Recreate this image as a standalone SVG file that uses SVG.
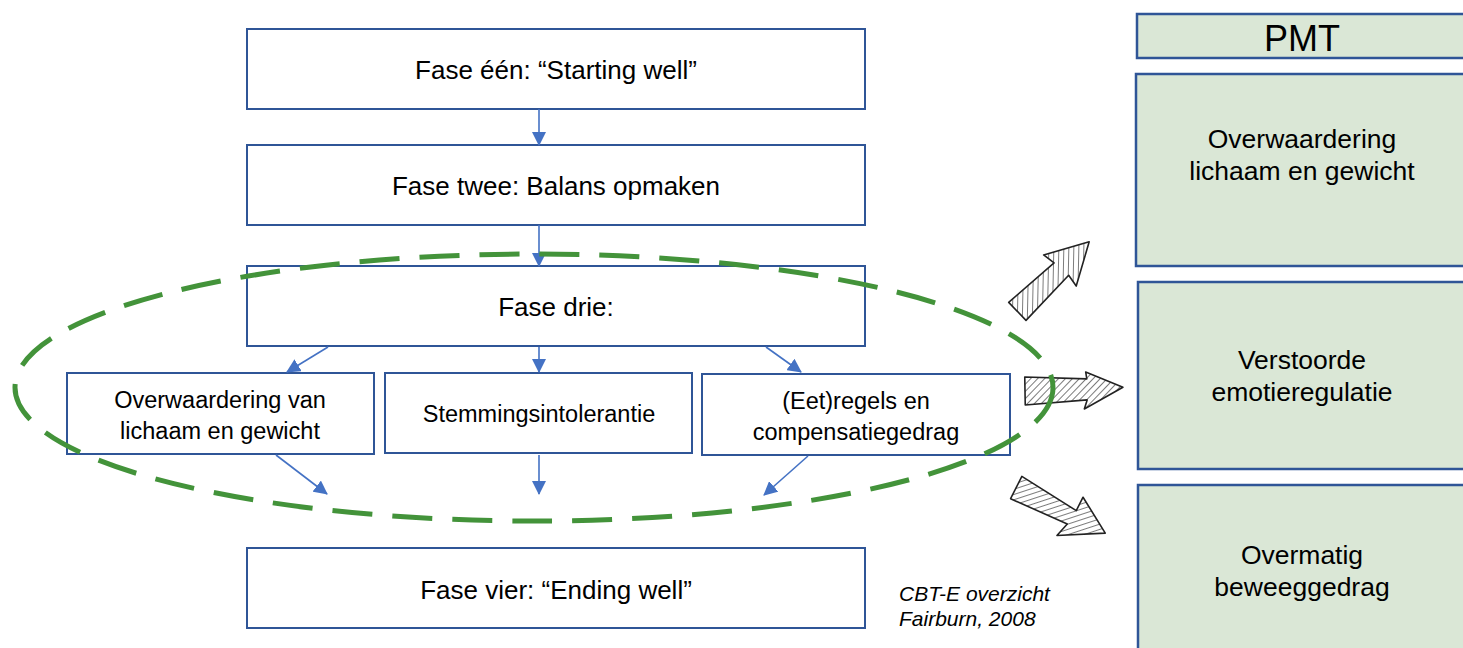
<svg xmlns="http://www.w3.org/2000/svg" width="1463" height="648" viewBox="0 0 1463 648">
<style>
.box{fill:#fff;stroke:#2F5597;stroke-width:2}
.gbox{fill:#DAE7D6;stroke:#2F5597;stroke-width:2.5}
.t{font-family:"Liberation Sans",Arial,sans-serif;fill:#000;text-anchor:middle}
.f{font-size:26px}
.c{font-size:23.5px}
.r{font-size:26.5px}
.con{stroke:#4472C4;stroke-width:1.6;fill:none;marker-end:url(#ah)}
.hatch{fill:url(#hp);stroke:#222;stroke-width:1.6;stroke-linejoin:round}
.src{font-family:"Liberation Sans",Arial,sans-serif;font-style:italic;font-size:21px}
</style>
<defs>
<marker id="ah" markerUnits="userSpaceOnUse" markerWidth="14" markerHeight="14" refX="13" refY="7" orient="auto">
<path d="M0,0 L14,7 L0,14 Z" fill="#4472C4"/>
</marker>
<pattern id="hp" patternUnits="userSpaceOnUse" width="5" height="5" patternTransform="rotate(45)">
<rect width="5" height="5" fill="#fff"/>
<line x1="0" y1="0" x2="0" y2="5" stroke="#333" stroke-width="1.3"/>
</pattern>
</defs>

<g id="fase1"><rect class="box" x="247" y="29" width="618" height="80"/><text class="t f" x="556" y="79">Fase één: “Starting well”</text></g>
<g id="fase2"><rect class="box" x="247" y="145" width="618" height="80"/><text class="t f" x="556" y="195">Fase twee: Balans opmaken</text></g>
<g id="fase3"><rect class="box" x="247" y="266" width="618" height="80"/><text class="t f" x="556" y="316">Fase drie:</text></g>
<g id="overwaardering"><rect class="box" x="67" y="373" width="307" height="81"/><text class="t c" x="220" y="408">Overwaardering van</text><text class="t c" x="220" y="439">lichaam en gewicht</text></g>
<g id="stemming"><rect class="box" x="385" y="373" width="307" height="80"/><text class="t c" x="539" y="422">Stemmingsintolerantie</text></g>
<g id="eetregels"><rect class="box" x="702" y="374" width="308" height="81"/><text class="t c" x="856" y="409">(Eet)regels en</text><text class="t c" x="856" y="440">compensatiegedrag</text></g>
<g id="fase4"><rect class="box" x="247" y="548" width="618" height="80"/><text class="t f" x="556" y="599">Fase vier: “Ending well”</text></g>

<g id="pmt"><rect class="gbox" x="1137" y="14" width="330" height="44"/><text class="t" style="font-size:36px" x="1302" y="51">PMT</text></g>
<g id="pmt-overwaardering"><rect class="gbox" x="1136" y="74" width="330" height="192"/><text class="t r" x="1302" y="148">Overwaardering</text><text class="t r" x="1302" y="180">lichaam en gewicht</text></g>
<g id="pmt-emotie"><rect class="gbox" x="1138" y="282" width="330" height="187"/><text class="t r" x="1302" y="369">Verstoorde</text><text class="t r" x="1302" y="401">emotieregulatie</text></g>
<g id="pmt-beweeg"><rect class="gbox" x="1138" y="485" width="330" height="170"/><text class="t r" x="1302" y="564">Overmatig</text><text class="t r" x="1302" y="596">beweeggedrag</text></g>

<g id="bron"><text class="src" x="899" y="601">CBT-E overzicht</text><text class="src" x="899" y="626">Fairburn, 2008</text></g>

<g id="connectors">
<line class="con" x1="539" y1="109" x2="539" y2="145"/>
<line class="con" x1="539" y1="225" x2="539" y2="266"/>
<line class="con" x1="328" y1="347" x2="287" y2="372"/>
<line class="con" x1="539" y1="347" x2="539" y2="372"/>
<line class="con" x1="766" y1="347" x2="801" y2="372"/>
<line class="con" x1="276" y1="455" x2="327" y2="494"/>
<line class="con" x1="539" y1="455" x2="539" y2="494"/>
<line class="con" x1="808" y1="456" x2="764" y2="495"/>
</g>

<g id="hatched-arrows">
<path class="hatch" transform="translate(1017,311) rotate(-43.8)" d="M0,-12 L60,-9 L58,-22 L100,0 L60,23 L62,10 L0,13 Z"/>
<path class="hatch" transform="translate(1025,391) rotate(-1)" d="M0,-14 L62,-11 L61,-18 L98,-2 L59,19 L62,10 L0,14 Z"/>
<path class="hatch" transform="translate(1016,488) rotate(26.8)" d="M0,-13 L64,-7 L64,-22 L100,0 L58,24 L62,9 L0,12 Z"/>
</g>

<g id="focus-ellipse">
<ellipse cx="534" cy="387.5" rx="519" ry="133.5" fill="none" stroke="#43933A" stroke-width="5" stroke-dasharray="40 20"/>
</g>
</svg>
